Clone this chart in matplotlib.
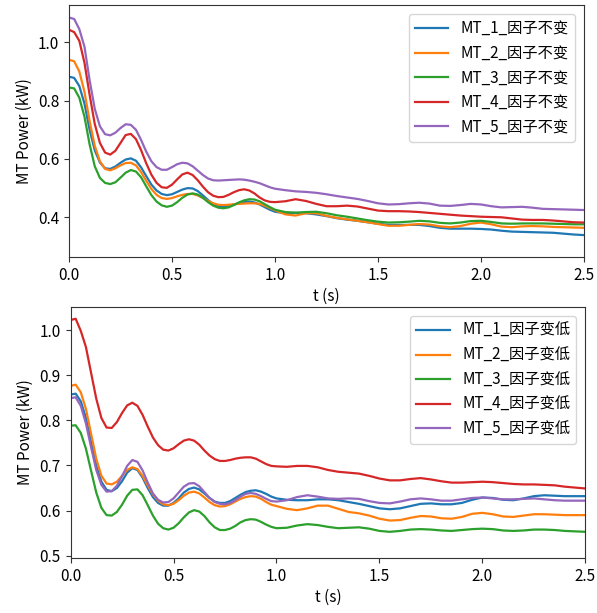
import numpy as np
import matplotlib
matplotlib.use("Agg")
import matplotlib.pyplot as plt

plt.rcParams['font.family'] = ['Noto Sans CJK SC', 'DejaVu Sans']
plt.rcParams['axes.unicode_minus'] = False

# sample times (s): 0.025 s steps to 1.0, then 0.05 s steps to 2.5
t = np.concatenate([np.arange(0, 41) * 0.025, 1.0 + np.arange(1, 31) * 0.05])

# ---- top panel: factor unchanged ----
top_labels = ["MT_1_因子不变", "MT_2_因子不变", "MT_3_因子不变", "MT_4_因子不变", "MT_5_因子不变"]
top_mt1 = [0.882, 0.878, 0.850, 0.790, 0.700, 0.630, 0.588, 0.568, 0.566, 0.574, 0.587, 0.598, 0.602, 0.594,
           0.571, 0.541, 0.512, 0.492, 0.480, 0.476, 0.479, 0.487, 0.495, 0.500, 0.499, 0.490, 0.475, 0.459,
           0.446, 0.438, 0.436, 0.438, 0.443, 0.449, 0.453, 0.454, 0.451, 0.444, 0.435, 0.426, 0.419,
           0.414, 0.415, 0.414, 0.410, 0.404, 0.397, 0.392, 0.388, 0.383, 0.378, 0.374, 0.374, 0.374, 0.374,
           0.370, 0.364, 0.361, 0.361, 0.361, 0.360, 0.358, 0.354, 0.351, 0.350, 0.349, 0.348, 0.347, 0.344,
           0.341, 0.339]
top_mt2 = [0.940, 0.935, 0.900, 0.830, 0.730, 0.645, 0.592, 0.566, 0.561, 0.568, 0.578, 0.586, 0.587, 0.578,
           0.555, 0.525, 0.497, 0.477, 0.466, 0.463, 0.466, 0.472, 0.477, 0.480, 0.480, 0.475, 0.466, 0.456,
           0.448, 0.443, 0.442, 0.443, 0.445, 0.446, 0.447, 0.448, 0.448, 0.446, 0.440, 0.432, 0.424,
           0.410, 0.406, 0.414, 0.414, 0.405, 0.398, 0.393, 0.388, 0.383, 0.377, 0.371, 0.371, 0.374, 0.377,
           0.375, 0.369, 0.366, 0.370, 0.378, 0.382, 0.376, 0.368, 0.366, 0.369, 0.370, 0.369, 0.367, 0.366,
           0.365, 0.364]
top_mt3 = [0.845, 0.842, 0.810, 0.745, 0.650, 0.575, 0.535, 0.518, 0.514, 0.520, 0.536, 0.553, 0.562, 0.557,
           0.537, 0.506, 0.476, 0.454, 0.441, 0.436, 0.440, 0.452, 0.467, 0.478, 0.482, 0.478, 0.467, 0.452,
           0.440, 0.433, 0.431, 0.434, 0.442, 0.451, 0.458, 0.462, 0.461, 0.455, 0.445, 0.435, 0.426,
           0.418, 0.416, 0.418, 0.419, 0.414, 0.407, 0.402, 0.396, 0.390, 0.385, 0.382, 0.383, 0.385, 0.388,
           0.386, 0.381, 0.379, 0.382, 0.387, 0.388, 0.384, 0.379, 0.378, 0.379, 0.379, 0.379, 0.378, 0.377,
           0.376, 0.376]
top_mt4 = [1.043, 1.035, 1.005, 0.930, 0.820, 0.720, 0.655, 0.622, 0.615, 0.628, 0.655, 0.682, 0.686, 0.668,
           0.630, 0.585, 0.546, 0.518, 0.503, 0.501, 0.512, 0.530, 0.547, 0.553, 0.545, 0.527, 0.505, 0.486,
           0.474, 0.469, 0.470, 0.477, 0.486, 0.493, 0.496, 0.492, 0.482, 0.468, 0.458, 0.453, 0.452,
           0.455, 0.462, 0.456, 0.446, 0.438, 0.438, 0.440, 0.437, 0.430, 0.423, 0.421, 0.421, 0.420, 0.418,
           0.415, 0.412, 0.409, 0.406, 0.404, 0.402, 0.401, 0.400, 0.396, 0.392, 0.391, 0.391, 0.389, 0.386,
           0.383, 0.382]
top_mt5 = [1.085, 1.080, 1.045, 0.985, 0.870, 0.772, 0.712, 0.685, 0.681, 0.690, 0.706, 0.719, 0.717, 0.700,
           0.665, 0.625, 0.592, 0.572, 0.563, 0.563, 0.572, 0.582, 0.587, 0.585, 0.575, 0.560, 0.545, 0.533,
           0.527, 0.526, 0.527, 0.528, 0.529, 0.530, 0.529, 0.526, 0.522, 0.517, 0.510, 0.503, 0.498,
           0.493, 0.489, 0.487, 0.484, 0.479, 0.473, 0.468, 0.463, 0.456, 0.448, 0.444, 0.445, 0.448, 0.450,
           0.447, 0.440, 0.439, 0.442, 0.446, 0.444, 0.438, 0.434, 0.435, 0.436, 0.433, 0.429, 0.428, 0.427,
           0.426, 0.425]

# ---- bottom panel: factor lowered ----
bot_labels = ["MT_1_因子变低", "MT_2_因子变低", "MT_3_因子变低", "MT_4_因子变低", "MT_5_因子变低"]
bot_mt1 = [0.857, 0.859, 0.842, 0.805, 0.752, 0.700, 0.664, 0.646, 0.643, 0.650, 0.665, 0.684, 0.694, 0.690,
           0.673, 0.650, 0.630, 0.617, 0.611, 0.611, 0.617, 0.627, 0.640, 0.648, 0.651, 0.647, 0.638, 0.628,
           0.620, 0.617, 0.617, 0.621, 0.628, 0.635, 0.641, 0.644, 0.645, 0.642, 0.637, 0.631, 0.627,
           0.624, 0.623, 0.623, 0.625, 0.625, 0.623, 0.619, 0.615, 0.610, 0.605, 0.603, 0.605, 0.610, 0.615,
           0.616, 0.614, 0.614, 0.617, 0.624, 0.629, 0.628, 0.624, 0.623, 0.627, 0.632, 0.634, 0.633, 0.632,
           0.632, 0.632]
bot_mt2 = [0.876, 0.879, 0.862, 0.825, 0.770, 0.715, 0.677, 0.660, 0.658, 0.664, 0.677, 0.690, 0.696, 0.692,
           0.677, 0.656, 0.636, 0.622, 0.614, 0.612, 0.615, 0.623, 0.633, 0.640, 0.642, 0.638, 0.629, 0.619,
           0.612, 0.609, 0.610, 0.614, 0.620, 0.626, 0.630, 0.632, 0.631, 0.626, 0.619, 0.613, 0.610,
           0.604, 0.601, 0.605, 0.611, 0.611, 0.604, 0.597, 0.594, 0.589, 0.582, 0.578, 0.579, 0.584, 0.588,
           0.587, 0.583, 0.582, 0.586, 0.593, 0.595, 0.592, 0.587, 0.586, 0.589, 0.592, 0.592, 0.591, 0.590,
           0.590, 0.590]
bot_mt3 = [0.788, 0.789, 0.772, 0.737, 0.688, 0.640, 0.606, 0.590, 0.589, 0.597, 0.613, 0.633, 0.646, 0.647,
           0.634, 0.612, 0.589, 0.571, 0.561, 0.558, 0.562, 0.572, 0.585, 0.596, 0.601, 0.598, 0.588, 0.574,
           0.563, 0.557, 0.557, 0.560, 0.566, 0.574, 0.579, 0.581, 0.580, 0.575, 0.569, 0.564, 0.561,
           0.562, 0.567, 0.570, 0.568, 0.564, 0.561, 0.562, 0.563, 0.560, 0.555, 0.553, 0.555, 0.558, 0.559,
           0.558, 0.556, 0.555, 0.557, 0.559, 0.560, 0.559, 0.556, 0.555, 0.556, 0.558, 0.558, 0.557, 0.555,
           0.554, 0.553]
bot_mt4 = [1.022, 1.025, 0.998, 0.962, 0.905, 0.848, 0.805, 0.784, 0.783, 0.796, 0.816, 0.833, 0.839, 0.832,
           0.812, 0.786, 0.762, 0.745, 0.735, 0.733, 0.738, 0.747, 0.755, 0.758, 0.755, 0.746, 0.733, 0.722,
           0.714, 0.710, 0.710, 0.712, 0.715, 0.717, 0.718, 0.718, 0.715, 0.709, 0.703, 0.699, 0.698,
           0.697, 0.699, 0.699, 0.696, 0.690, 0.686, 0.684, 0.682, 0.677, 0.671, 0.667, 0.667, 0.670, 0.672,
           0.669, 0.665, 0.662, 0.662, 0.663, 0.664, 0.663, 0.661, 0.659, 0.658, 0.658, 0.657, 0.656, 0.653,
           0.651, 0.649]
bot_mt5 = [0.849, 0.851, 0.832, 0.793, 0.740, 0.690, 0.657, 0.642, 0.643, 0.655, 0.676, 0.699, 0.712, 0.708,
           0.689, 0.662, 0.638, 0.624, 0.618, 0.619, 0.627, 0.640, 0.653, 0.660, 0.661, 0.654, 0.641, 0.628,
           0.619, 0.615, 0.614, 0.617, 0.623, 0.631, 0.637, 0.639, 0.637, 0.632, 0.626, 0.621, 0.620,
           0.623, 0.630, 0.634, 0.631, 0.627, 0.626, 0.627, 0.626, 0.621, 0.617, 0.616, 0.620, 0.625, 0.627,
           0.625, 0.622, 0.622, 0.625, 0.628, 0.629, 0.627, 0.625, 0.625, 0.626, 0.627, 0.625, 0.623, 0.622,
           0.622, 0.622]

top_series = [top_mt1, top_mt2, top_mt3, top_mt4, top_mt5]
bot_series = [bot_mt1, bot_mt2, bot_mt3, bot_mt4, bot_mt5]
colors = ['#1f77b4', '#ff7f0e', '#2ca02c', '#d62728', '#9467bd']

fig = plt.figure(figsize=(5.97, 6.13), dpi=100)
ax1 = fig.add_axes([0.1156, 0.5808, 0.8626, 0.4111])
ax2 = fig.add_axes([0.1181, 0.0897, 0.8626, 0.4095])

for ax, series, labels, ylim, yticks in [
        (ax1, top_series, top_labels, (0.264, 1.128), [0.4, 0.6, 0.8, 1.0]),
        (ax2, bot_series, bot_labels, (0.495, 1.051), [0.5, 0.6, 0.7, 0.8, 0.9, 1.0])]:
    for vals, lab, c in zip(series, labels, colors):
        assert len(vals) == len(t)
        ax.plot(t, vals, color=c, lw=1.6, label=lab)
    ax.set_xlim(0, 2.5)
    ax.set_ylim(*ylim)
    ax.set_yticks(yticks)
    ax.set_xticks([0.0, 0.5, 1.0, 1.5, 2.0, 2.5])
    ax.set_xlabel("t (s)", fontsize=11, labelpad=3)
    ax.set_ylabel("MT Power (kW)", fontsize=11, labelpad=4)
    ax.tick_params(labelsize=11, color='#333333')
    for s in ax.spines.values():
        s.set_color('#333333')
    ax.legend(loc='upper right', fontsize=11, borderaxespad=0.6, handlelength=2.2)

fig.savefig("out.png", dpi=100)
